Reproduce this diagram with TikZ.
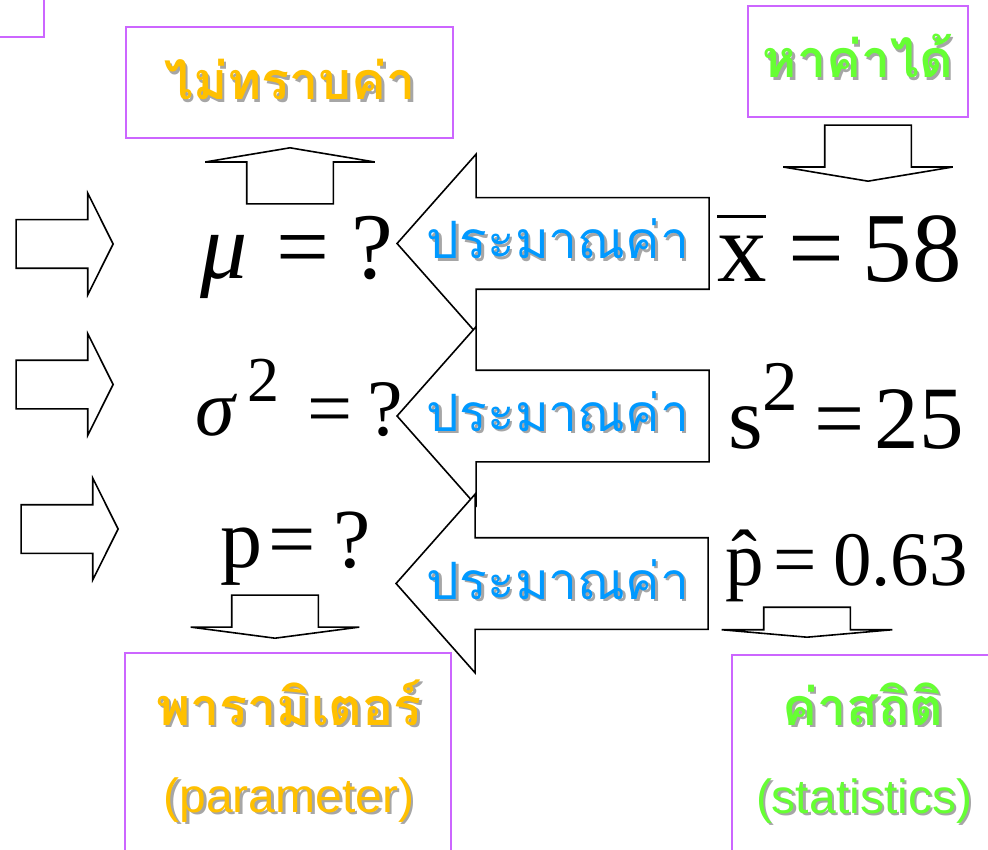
\documentclass[tikz,border=0pt]{standalone}
\usepackage{fontspec}
\setmainfont{Liberation Serif}
\newfontfamily\thaifont[Script=Thai]{Loma}
\newfontfamily\arialfont{Liberation Sans}
\usetikzlibrary{shapes.arrows,positioning}

\definecolor{boxpurple}{RGB}{204,102,255}
\definecolor{gold}{RGB}{255,192,0}
\definecolor{lime}{RGB}{102,255,51}
\definecolor{skyblue}{RGB}{0,153,255}

% text with a soft drop shadow
\newcommand{\shd}[2]{\rlap{\kern2.5pt\raisebox{-2.5pt}{\textcolor{black!35}{#2}}}\textcolor{#1}{#2}}
\newcommand{\supr}[1]{\raisebox{0.42em}{\scalebox{0.8}{#1}}}
\newcommand{\barx}{\leavevmode\rlap{\raisebox{0.65em}{\rule{0.49em}{0.028em}}}x}

\begin{document}
\begin{tikzpicture}[x=1pt, y=-1pt,
    pbox/.style={draw=boxpurple, line width=1.6pt, inner sep=0pt},
    blkarrow/.style={single arrow, draw, line width=1.6pt, fill=white, inner xsep=0pt,
                     single arrow head indent=0pt, anchor=tip},
    smallarr/.style={blkarrow, inner ysep=23.5, minimum height=97, minimum width=100,
                     single arrow head extend=26.5, single arrow tip angle=127},
    estarr/.style={blkarrow, rotate=180, inner ysep=45, minimum height=312, minimum width=177,
                   single arrow head extend=43.5, single arrow tip angle=97},
    vertarr/.style={blkarrow, inner ysep=42.5},
    thaibig/.style={font=\thaifont\bfseries\fontsize{52}{56}\selectfont, anchor=base, inner sep=0pt},
    thaiest/.style={font=\thaifont\fontsize{51.5}{55}\selectfont, anchor=base, inner sep=0pt},
    latin/.style={font=\arialfont\fontsize{48}{52}\selectfont, anchor=base, inner sep=0pt},
    eqn/.style={anchor=base west, inner sep=0pt}
  ]
  \useasboundingbox (0,0) rectangle (988,850);

  % boxes
  \node[pbox, minimum width=70, minimum height=60, anchor=south east] (corner) at (45,38) {};
  \node[pbox, minimum width=327, minimum height=111] (unk) at (289.5,82.5) {};
  \node[pbox, minimum width=220, minimum height=111] (fnd) at (858,61.5) {};
  \node[pbox, minimum width=326, minimum height=230, anchor=north west] (par) at (124,652) {};
  \node[pbox, minimum width=320, minimum height=230, anchor=north west] (stat) at (731,654) {};

  \node[thaibig] (unklbl) at (290,100) {\shd{gold}{ไม่ทราบค่า}};
  \node[thaibig] (fndlbl) at (858,78) {\shd{lime}{หาค่าได้}};
  \node[thaibig] (parlbl) at (289,725) {\shd{gold}{พารามิเตอร์}};
  \node[latin] (parlat) at (289,812) {\shd{gold}{(parameter)}};
  \node[thaibig] (statlbl) at (863,725) {\shd{lime}{ค่าสถิติ}};
  \node[latin] (statlat) at (864,813) {\shd{lime}{(statistics)}};

  % small block arrows
  \node[smallarr] (in1) at (114,244) {};
  \node[smallarr] (in2) at (114,384.5) {};
  \node[smallarr] (in3) at (119,529) {};
  \node[vertarr, rotate=90, minimum height=56, minimum width=168,
        single arrow head extend=41.5, single arrow tip angle=161] (up) at (290,147) {};
  \node[vertarr, rotate=-90, minimum height=56, minimum width=168,
        single arrow head extend=41.5, single arrow tip angle=161] (dn1) at (868,182) {};
  \node[vertarr, rotate=-90, minimum height=43, minimum width=167,
        single arrow head extend=41, single arrow tip angle=165] (dn2) at (275,639) {};
  \node[vertarr, rotate=-90, minimum height=30, minimum width=169,
        single arrow head extend=42, single arrow tip angle=170] (dn3) at (807,638) {};

  % estimation arrows
  \node[estarr] (est1) at (396,243.5) {};
  \node[estarr] (est2) at (396,416) {};
  \node[estarr] (est3) at (395,583.5) {};
  \node[thaiest] (est1lbl) at (558,259) {\shd{skyblue}{ประมาณค่า}};
  \node[thaiest] (est2lbl) at (558,431) {\shd{skyblue}{ประมาณค่า}};
  \node[thaiest] (est3lbl) at (558,599) {\shd{skyblue}{ประมาณค่า}};

  % parameters
  \node[eqn, font=\fontsize{94}{100}\selectfont] (mu) at (200,279) {\textit{μ}\hspace{29pt}=\hspace{22pt}?};
  \node[eqn, font=\fontsize{80}{84}\selectfont] (sig) at (195,435) {\textit{σ}\kern10pt\supr{2}\hspace{28pt}=\hspace{15pt}?};
  \node[eqn, font=\fontsize{84}{90}\selectfont] (p) at (220,567) {p\hspace{6pt}=\hspace{18pt}?};

  % statistics
  \node[eqn, font=\fontsize{99}{104}\selectfont] (xbar) at (717,282) {\barx\hspace{22pt}=\hspace{18pt}58};
  \node[eqn, font=\fontsize{89}{94}\selectfont] (ssq) at (728,448) {s\supr{2}\hspace{16pt}=\hspace{10pt}25};
  \node[eqn, font=\fontsize{77}{80}\selectfont] (phat) at (725,585) {\^{p}\hspace{10pt}=\hspace{16pt}0.63};
\end{tikzpicture}
\end{document}
